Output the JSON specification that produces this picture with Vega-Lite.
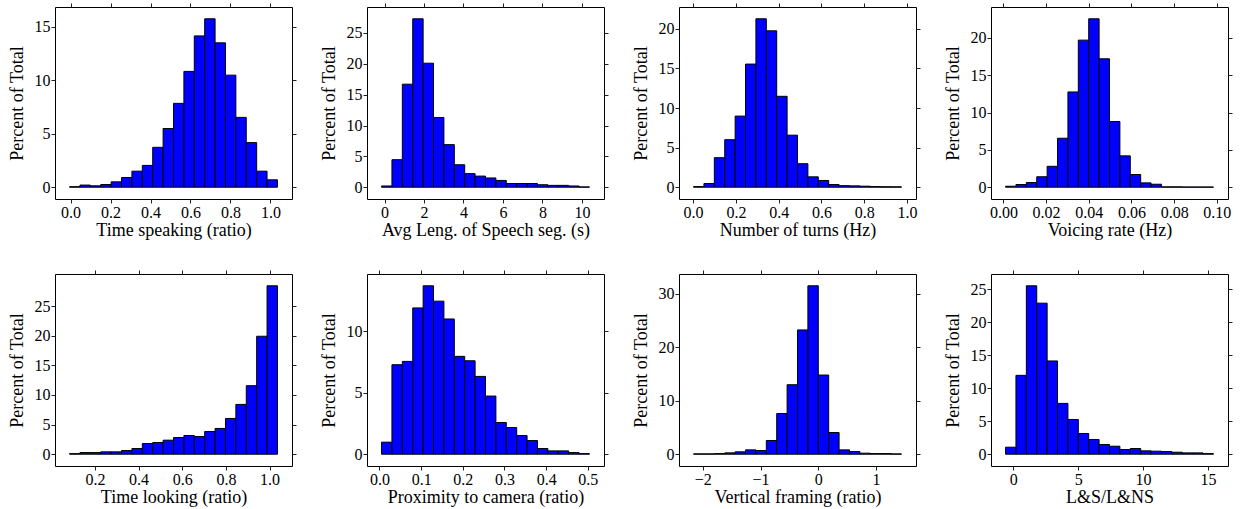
{
"$schema":"https://vega.github.io/schema/vega-lite/v6.json",
"padding":{"left":7,"top":2,"right":0,"bottom":0},
"autosize":{"type":"pad"},
"background":"white",
"bounds":"flush",
"columns":4,
"spacing":{"row":75,"column":75},
"datasets":{
"p1":[{"lo":-0.005,"hi":0.047,"pct":0.05},{"lo":0.047,"hi":0.099,"pct":0.2},{"lo":0.099,"hi":0.151,"pct":0.13},{"lo":0.151,"hi":0.203,"pct":0.25},{"lo":0.203,"hi":0.255,"pct":0.5},{"lo":0.255,"hi":0.307,"pct":0.91},{"lo":0.307,"hi":0.359,"pct":1.5},{"lo":0.359,"hi":0.411,"pct":2.04},{"lo":0.411,"hi":0.463,"pct":3.73},{"lo":0.463,"hi":0.515,"pct":5.49},{"lo":0.515,"hi":0.567,"pct":7.84},{"lo":0.567,"hi":0.619,"pct":10.83},{"lo":0.619,"hi":0.671,"pct":14.15},{"lo":0.671,"hi":0.723,"pct":15.75},{"lo":0.723,"hi":0.775,"pct":13.5},{"lo":0.775,"hi":0.827,"pct":10.48},{"lo":0.827,"hi":0.879,"pct":6.53},{"lo":0.879,"hi":0.931,"pct":4.17},{"lo":0.931,"hi":0.983,"pct":1.5},{"lo":0.983,"hi":1.035,"pct":0.69}],
"p2":[{"lo":-0.15,"hi":0.3765,"pct":0.2},{"lo":0.3765,"hi":0.903,"pct":4.46},{"lo":0.903,"hi":1.4295,"pct":16.7},{"lo":1.4295,"hi":1.956,"pct":27.3},{"lo":1.956,"hi":2.4825,"pct":20.1},{"lo":2.4825,"hi":3.009,"pct":11.3},{"lo":3.009,"hi":3.5355,"pct":6.9},{"lo":3.5355,"hi":4.062,"pct":3.64},{"lo":4.062,"hi":4.5885,"pct":2.2},{"lo":4.5885,"hi":5.115,"pct":1.8},{"lo":5.115,"hi":5.6415,"pct":1.5},{"lo":5.6415,"hi":6.168,"pct":1.1},{"lo":6.168,"hi":6.6945,"pct":0.6},{"lo":6.6945,"hi":7.221,"pct":0.6},{"lo":7.221,"hi":7.7475,"pct":0.6},{"lo":7.7475,"hi":8.274,"pct":0.4},{"lo":8.274,"hi":8.8005,"pct":0.3},{"lo":8.8005,"hi":9.327,"pct":0.3},{"lo":9.327,"hi":9.8535,"pct":0.2},{"lo":9.8535,"hi":10.38,"pct":0.05}],
"p3":[{"lo":0.002,"hi":0.0506,"pct":0.08},{"lo":0.0506,"hi":0.0992,"pct":0.47},{"lo":0.0992,"hi":0.1478,"pct":3.73},{"lo":0.1478,"hi":0.1964,"pct":6.0},{"lo":0.1964,"hi":0.245,"pct":8.98},{"lo":0.245,"hi":0.2936,"pct":15.55},{"lo":0.2936,"hi":0.3422,"pct":21.27},{"lo":0.3422,"hi":0.3908,"pct":19.75},{"lo":0.3908,"hi":0.4394,"pct":11.48},{"lo":0.4394,"hi":0.488,"pct":6.57},{"lo":0.488,"hi":0.5366,"pct":2.97},{"lo":0.5366,"hi":0.5852,"pct":1.31},{"lo":0.5852,"hi":0.6338,"pct":0.85},{"lo":0.6338,"hi":0.6824,"pct":0.34},{"lo":0.6824,"hi":0.731,"pct":0.2},{"lo":0.731,"hi":0.7796,"pct":0.17},{"lo":0.7796,"hi":0.8282,"pct":0.13},{"lo":0.8282,"hi":0.8768,"pct":0.08},{"lo":0.8768,"hi":0.9254,"pct":0.06},{"lo":0.9254,"hi":0.974,"pct":0.05}],
"p4":[{"lo":0.001,"hi":0.00587,"pct":0.13},{"lo":0.00587,"hi":0.01074,"pct":0.36},{"lo":0.01074,"hi":0.01561,"pct":0.63},{"lo":0.01561,"hi":0.02048,"pct":1.4},{"lo":0.02048,"hi":0.02535,"pct":2.8},{"lo":0.02535,"hi":0.03022,"pct":6.56},{"lo":0.03022,"hi":0.03509,"pct":12.76},{"lo":0.03509,"hi":0.03996,"pct":19.7},{"lo":0.03996,"hi":0.04483,"pct":22.56},{"lo":0.04483,"hi":0.0497,"pct":17.2},{"lo":0.0497,"hi":0.05457,"pct":8.8},{"lo":0.05457,"hi":0.05944,"pct":4.2},{"lo":0.05944,"hi":0.06431,"pct":1.7},{"lo":0.06431,"hi":0.06918,"pct":0.58},{"lo":0.06918,"hi":0.07405,"pct":0.4},{"lo":0.07405,"hi":0.07892,"pct":0.05},{"lo":0.07892,"hi":0.08379,"pct":0.05},{"lo":0.08379,"hi":0.08866,"pct":0.03},{"lo":0.08866,"hi":0.09353,"pct":0.03},{"lo":0.09353,"hi":0.0984,"pct":0.03}],
"p5":[{"lo":0.084,"hi":0.1316,"pct":0.1},{"lo":0.1316,"hi":0.1792,"pct":0.28},{"lo":0.1792,"hi":0.2268,"pct":0.28},{"lo":0.2268,"hi":0.2744,"pct":0.4},{"lo":0.2744,"hi":0.322,"pct":0.4},{"lo":0.322,"hi":0.3696,"pct":0.62},{"lo":0.3696,"hi":0.4172,"pct":0.96},{"lo":0.4172,"hi":0.4648,"pct":1.8},{"lo":0.4648,"hi":0.5124,"pct":1.97},{"lo":0.5124,"hi":0.56,"pct":2.37},{"lo":0.56,"hi":0.6076,"pct":2.82},{"lo":0.6076,"hi":0.6552,"pct":3.16},{"lo":0.6552,"hi":0.7028,"pct":2.99},{"lo":0.7028,"hi":0.7504,"pct":3.84},{"lo":0.7504,"hi":0.798,"pct":4.35},{"lo":0.798,"hi":0.8456,"pct":6.04},{"lo":0.8456,"hi":0.8932,"pct":8.41},{"lo":0.8932,"hi":0.9408,"pct":11.57},{"lo":0.9408,"hi":0.9884,"pct":19.92},{"lo":0.9884,"hi":1.036,"pct":28.44}],
"p6":[{"lo":0.005,"hi":0.02995,"pct":0.98},{"lo":0.02995,"hi":0.0549,"pct":7.28},{"lo":0.0549,"hi":0.07985,"pct":7.55},{"lo":0.07985,"hi":0.1048,"pct":11.9},{"lo":0.1048,"hi":0.12975,"pct":13.7},{"lo":0.12975,"hi":0.1547,"pct":12.45},{"lo":0.1547,"hi":0.17965,"pct":11.0},{"lo":0.17965,"hi":0.2046,"pct":7.96},{"lo":0.2046,"hi":0.22955,"pct":7.6},{"lo":0.22955,"hi":0.2545,"pct":6.33},{"lo":0.2545,"hi":0.27945,"pct":4.73},{"lo":0.27945,"hi":0.3044,"pct":2.58},{"lo":0.3044,"hi":0.32935,"pct":2.17},{"lo":0.32935,"hi":0.3543,"pct":1.52},{"lo":0.3543,"hi":0.37925,"pct":1.11},{"lo":0.37925,"hi":0.4042,"pct":0.46},{"lo":0.4042,"hi":0.42915,"pct":0.27},{"lo":0.42915,"hi":0.4541,"pct":0.27},{"lo":0.4541,"hi":0.47905,"pct":0.14},{"lo":0.47905,"hi":0.504,"pct":0.05}],
"p7":[{"lo":-2.16,"hi":-1.98,"pct":0.06},{"lo":-1.98,"hi":-1.8,"pct":0.06},{"lo":-1.8,"hi":-1.62,"pct":0.12},{"lo":-1.62,"hi":-1.44,"pct":0.25},{"lo":-1.44,"hi":-1.26,"pct":0.44},{"lo":-1.26,"hi":-1.08,"pct":0.81},{"lo":-1.08,"hi":-0.9,"pct":0.69},{"lo":-0.9,"hi":-0.72,"pct":2.56},{"lo":-0.72,"hi":-0.54,"pct":7.6},{"lo":-0.54,"hi":-0.36,"pct":12.97},{"lo":-0.36,"hi":-0.18,"pct":23.2},{"lo":-0.18,"hi":0,"pct":31.44},{"lo":0,"hi":0.18,"pct":14.78},{"lo":0.18,"hi":0.36,"pct":4.05},{"lo":0.36,"hi":0.54,"pct":0.81},{"lo":0.54,"hi":0.72,"pct":0.5},{"lo":0.72,"hi":0.9,"pct":0.19},{"lo":0.9,"hi":1.08,"pct":0.12},{"lo":1.08,"hi":1.26,"pct":0.12},{"lo":1.26,"hi":1.44,"pct":0.06}],
"p8":[{"lo":-0.59,"hi":0.2105,"pct":1.06},{"lo":0.2105,"hi":1.011,"pct":11.94},{"lo":1.011,"hi":1.8115,"pct":25.5},{"lo":1.8115,"hi":2.612,"pct":22.87},{"lo":2.612,"hi":3.4125,"pct":14.12},{"lo":3.4125,"hi":4.213,"pct":7.69},{"lo":4.213,"hi":5.0135,"pct":5.26},{"lo":5.0135,"hi":5.814,"pct":3.14},{"lo":5.814,"hi":6.6145,"pct":2.23},{"lo":6.6145,"hi":7.415,"pct":1.47},{"lo":7.415,"hi":8.2155,"pct":1.21},{"lo":8.2155,"hi":9.016,"pct":0.71},{"lo":9.016,"hi":9.8165,"pct":0.86},{"lo":9.8165,"hi":10.617,"pct":0.51},{"lo":10.617,"hi":11.4175,"pct":0.46},{"lo":11.4175,"hi":12.218,"pct":0.4},{"lo":12.218,"hi":13.0185,"pct":0.3},{"lo":13.0185,"hi":13.819,"pct":0.2},{"lo":13.819,"hi":14.6195,"pct":0.2},{"lo":14.6195,"hi":15.42,"pct":0.1}]
},
"concat":[
{"width":237,"height":192,"data":{"name":"p1"},"layer":[
{"mark":{"type":"bar","fill":"#0000ff","stroke":"#000000","strokeWidth":1},"encoding":{"x":{"field":"lo","type":"quantitative","scale":{"domain":[-0.0778,1.1078],"nice":false,"zero":false},"axis":{"orient":"bottom","values":[0,0.2,0.4,0.6,0.8,1],"format":".1f","title":"Time speaking (ratio)"}},"x2":{"field":"hi"},"y":{"field":"pct","type":"quantitative","scale":{"domain":[-1.1025,16.8525],"nice":false,"zero":false},"axis":{"orient":"left","values":[0,5,10,15],"title":"Percent of Total"}},"y2":{"datum":0}}},
{"mark":{"type":"bar","opacity":0},"encoding":{"x":{"field":"lo","type":"quantitative","axis":{"orient":"top","values":[0,0.2,0.4,0.6,0.8,1],"labels":false,"title":null}},"x2":{"field":"hi"},"y":{"field":"pct","type":"quantitative","axis":{"orient":"right","values":[0,5,10,15],"labels":false,"title":null}},"y2":{"datum":0}}}
],"resolve":{"axis":{"x":"independent","y":"independent"}}},
{"width":237,"height":192,"data":{"name":"p2"},"layer":[
{"mark":{"type":"bar","fill":"#0000ff","stroke":"#000000","strokeWidth":1},"encoding":{"x":{"field":"lo","type":"quantitative","scale":{"domain":[-0.887,11.117],"nice":false,"zero":false},"axis":{"orient":"bottom","values":[0,2,4,6,8,10],"title":"Avg Leng. of Speech seg. (s)"}},"x2":{"field":"hi"},"y":{"field":"pct","type":"quantitative","scale":{"domain":[-1.911,29.211],"nice":false,"zero":false},"axis":{"orient":"left","values":[0,5,10,15,20,25],"title":"Percent of Total"}},"y2":{"datum":0}}},
{"mark":{"type":"bar","opacity":0},"encoding":{"x":{"field":"lo","type":"quantitative","axis":{"orient":"top","values":[0,2,4,6,8,10],"labels":false,"title":null}},"x2":{"field":"hi"},"y":{"field":"pct","type":"quantitative","axis":{"orient":"right","values":[0,5,10,15,20,25],"labels":false,"title":null}},"y2":{"datum":0}}}
],"resolve":{"axis":{"x":"independent","y":"independent"}}},
{"width":237,"height":192,"data":{"name":"p3"},"layer":[
{"mark":{"type":"bar","fill":"#0000ff","stroke":"#000000","strokeWidth":1},"encoding":{"x":{"field":"lo","type":"quantitative","scale":{"domain":[-0.066,1.042],"nice":false,"zero":false},"axis":{"orient":"bottom","values":[0,0.2,0.4,0.6,0.8,1],"format":".1f","title":"Number of turns (Hz)"}},"x2":{"field":"hi"},"y":{"field":"pct","type":"quantitative","scale":{"domain":[-1.489,22.759],"nice":false,"zero":false},"axis":{"orient":"left","values":[0,5,10,15,20],"title":"Percent of Total"}},"y2":{"datum":0}}},
{"mark":{"type":"bar","opacity":0},"encoding":{"x":{"field":"lo","type":"quantitative","axis":{"orient":"top","values":[0,0.2,0.4,0.6,0.8,1],"labels":false,"title":null}},"x2":{"field":"hi"},"y":{"field":"pct","type":"quantitative","axis":{"orient":"right","values":[0,5,10,15,20],"labels":false,"title":null}},"y2":{"datum":0}}}
],"resolve":{"axis":{"x":"independent","y":"independent"}}},
{"width":237,"height":192,"data":{"name":"p4"},"layer":[
{"mark":{"type":"bar","fill":"#0000ff","stroke":"#000000","strokeWidth":1},"encoding":{"x":{"field":"lo","type":"quantitative","scale":{"domain":[-0.00582,0.10522],"nice":false,"zero":false},"axis":{"orient":"bottom","values":[0,0.02,0.04,0.06,0.08,0.1],"format":".2f","title":"Voicing rate (Hz)"}},"x2":{"field":"hi"},"y":{"field":"pct","type":"quantitative","scale":{"domain":[-1.579,24.139],"nice":false,"zero":false},"axis":{"orient":"left","values":[0,5,10,15,20],"title":"Percent of Total"}},"y2":{"datum":0}}},
{"mark":{"type":"bar","opacity":0},"encoding":{"x":{"field":"lo","type":"quantitative","axis":{"orient":"top","values":[0,0.02,0.04,0.06,0.08,0.1],"labels":false,"title":null}},"x2":{"field":"hi"},"y":{"field":"pct","type":"quantitative","axis":{"orient":"right","values":[0,5,10,15,20],"labels":false,"title":null}},"y2":{"datum":0}}}
],"resolve":{"axis":{"x":"independent","y":"independent"}}},
{"width":237,"height":192,"data":{"name":"p5"},"layer":[
{"mark":{"type":"bar","fill":"#0000ff","stroke":"#000000","strokeWidth":1},"encoding":{"x":{"field":"lo","type":"quantitative","scale":{"domain":[0.0174,1.1026],"nice":false,"zero":false},"axis":{"orient":"bottom","values":[0.2,0.4,0.6,0.8,1],"format":".1f","title":"Time looking (ratio)"}},"x2":{"field":"hi"},"y":{"field":"pct","type":"quantitative","scale":{"domain":[-1.991,30.431],"nice":false,"zero":false},"axis":{"orient":"left","values":[0,5,10,15,20,25],"title":"Percent of Total"}},"y2":{"datum":0}}},
{"mark":{"type":"bar","opacity":0},"encoding":{"x":{"field":"lo","type":"quantitative","axis":{"orient":"top","values":[0.2,0.4,0.6,0.8,1],"labels":false,"title":null}},"x2":{"field":"hi"},"y":{"field":"pct","type":"quantitative","axis":{"orient":"right","values":[0,5,10,15,20,25],"labels":false,"title":null}},"y2":{"datum":0}}}
],"resolve":{"axis":{"x":"independent","y":"independent"}}},
{"width":237,"height":192,"data":{"name":"p6"},"layer":[
{"mark":{"type":"bar","fill":"#0000ff","stroke":"#000000","strokeWidth":1},"encoding":{"x":{"field":"lo","type":"quantitative","scale":{"domain":[-0.0299,0.5389],"nice":false,"zero":false},"axis":{"orient":"bottom","values":[0,0.1,0.2,0.3,0.4,0.5],"format":".1f","title":"Proximity to camera (ratio)"}},"x2":{"field":"hi"},"y":{"field":"pct","type":"quantitative","scale":{"domain":[-0.959,14.659],"nice":false,"zero":false},"axis":{"orient":"left","values":[0,5,10],"title":"Percent of Total"}},"y2":{"datum":0}}},
{"mark":{"type":"bar","opacity":0},"encoding":{"x":{"field":"lo","type":"quantitative","axis":{"orient":"top","values":[0,0.1,0.2,0.3,0.4,0.5],"labels":false,"title":null}},"x2":{"field":"hi"},"y":{"field":"pct","type":"quantitative","axis":{"orient":"right","values":[0,5,10],"labels":false,"title":null}},"y2":{"datum":0}}}
],"resolve":{"axis":{"x":"independent","y":"independent"}}},
{"width":237,"height":192,"data":{"name":"p7"},"layer":[
{"mark":{"type":"bar","fill":"#0000ff","stroke":"#000000","strokeWidth":1},"encoding":{"x":{"field":"lo","type":"quantitative","scale":{"domain":[-2.412,1.692],"nice":false,"zero":false},"axis":{"orient":"bottom","values":[-2,-1,0,1],"title":"Vertical framing (ratio)"}},"x2":{"field":"hi"},"y":{"field":"pct","type":"quantitative","scale":{"domain":[-2.201,33.641],"nice":false,"zero":false},"axis":{"orient":"left","values":[0,10,20,30],"title":"Percent of Total"}},"y2":{"datum":0}}},
{"mark":{"type":"bar","opacity":0},"encoding":{"x":{"field":"lo","type":"quantitative","axis":{"orient":"top","values":[-2,-1,0,1],"labels":false,"title":null}},"x2":{"field":"hi"},"y":{"field":"pct","type":"quantitative","axis":{"orient":"right","values":[0,10,20,30],"labels":false,"title":null}},"y2":{"datum":0}}}
],"resolve":{"axis":{"x":"independent","y":"independent"}}},
{"width":237,"height":192,"data":{"name":"p8"},"layer":[
{"mark":{"type":"bar","fill":"#0000ff","stroke":"#000000","strokeWidth":1},"encoding":{"x":{"field":"lo","type":"quantitative","scale":{"domain":[-1.711,16.541],"nice":false,"zero":false},"axis":{"orient":"bottom","values":[0,5,10,15],"title":"L&S/L&NS"}},"x2":{"field":"hi"},"y":{"field":"pct","type":"quantitative","scale":{"domain":[-1.785,27.285],"nice":false,"zero":false},"axis":{"orient":"left","values":[0,5,10,15,20,25],"title":"Percent of Total"}},"y2":{"datum":0}}},
{"mark":{"type":"bar","opacity":0},"encoding":{"x":{"field":"lo","type":"quantitative","axis":{"orient":"top","values":[0,5,10,15],"labels":false,"title":null}},"x2":{"field":"hi"},"y":{"field":"pct","type":"quantitative","axis":{"orient":"right","values":[0,5,10,15,20,25],"labels":false,"title":null}},"y2":{"datum":0}}}
],"resolve":{"axis":{"x":"independent","y":"independent"}}}
],
"config":{
"view":{"stroke":"#000000","strokeWidth":1},
"axis":{"domain":false,"grid":false,"tickSize":4,"tickColor":"#222222","tickWidth":1,"labelFont":"Liberation Serif","labelFontSize":16,"labelColor":"#000000","labelOverlap":false,"labelFlush":false,"labelPadding":1,"titleFont":"Liberation Serif","titleFontSize":18,"titleFontWeight":"normal","titleColor":"#000000"},
"axisLeft":{"labelPadding":1,"titlePadding":8},
"axisBottom":{"titlePadding":1}
}
}
